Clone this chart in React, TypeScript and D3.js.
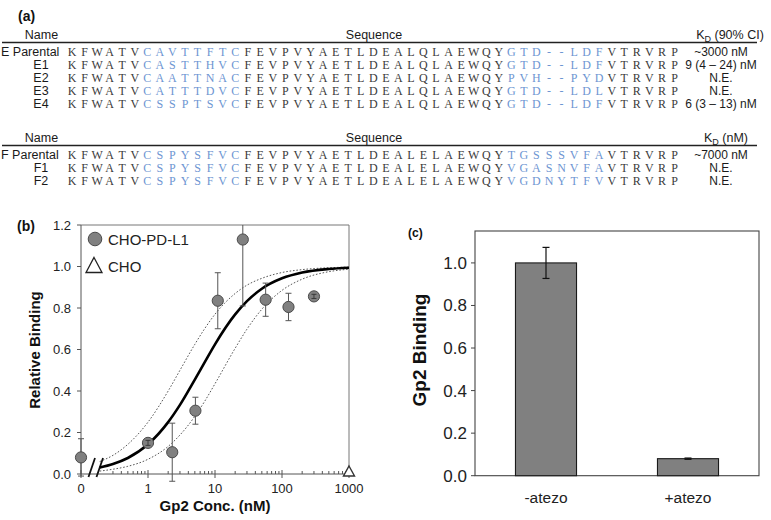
import React from "react";
import * as d3 from "d3";

// ---------- Table (a) data ----------
const seqPrefix = "KFWATV";
const seqSuffix = "VTRVRP";
const eMiddle = "FEVPVYAETLDEALQLAEWQY";
const fMiddle = "FEVPVYAETLDEALELAEWQY";

const eNames = ["E Parental", "E1", "E2", "E3", "E4"];
const eLoop1 = ["CAVTTFTC", "CASTTHVC", "CAATTNAC", "CATTTDVC", "CSSPTSVC"];
const eLoop2 = ["GTD--LDF", "GTD--LDF", "PVH--PYD", "GTD--LDL", "GTD--LDF"];
const eKd = ["~3000 nM", "9 (4 \u2013 24) nM", "N.E.", "N.E.", "6 (3 \u2013 13) nM"];

const fNames = ["F Parental", "F1", "F2"];
const fLoop1 = ["CSPYSFVC", "CSPYSFVC", "CSPYSFVC"];
const fLoop2 = ["TGSSSVFA", "VGASNVFA", "VGDNYTFV"];
const fKd = ["~7000 nM", "N.E.", "N.E."];

// ---------- Panel (b) data ----------
const bConc = [0, 1, 2.3, 5.1, 11, 26, 57, 125, 300];
const bVal = [0.08, 0.15, 0.105, 0.305, 0.835, 1.13, 0.84, 0.805, 0.856];
const bErr = [0.09, 0.012, 0.14, 0.065, 0.135, 0.32, 0.08, 0.066, 0.01];
const choConc = [1000];
const choVal = [0.0];
const bXTicks = [0, 1, 10, 100, 1000];
const bYTicks = [0, 0.2, 0.4, 0.6, 0.8, 1.0, 1.2];
// fitted curve and its 90% CI bounds
const fitConc = [0.19, 0.3, 0.5, 1, 2, 3, 5, 7, 10, 20, 30, 50, 100, 200, 500, 1000];
const fitMid = [0.031, 0.048, 0.077, 0.143, 0.25, 0.333, 0.455, 0.538, 0.625, 0.769, 0.833, 0.893, 0.943, 0.971, 0.988, 0.994];
const fitUpper = [0.06, 0.09, 0.143, 0.25, 0.4, 0.5, 0.625, 0.7, 0.77, 0.87, 0.91, 0.943, 0.971, 0.985, 0.994, 0.997];
const fitLower = [0.014, 0.023, 0.037, 0.071, 0.133, 0.188, 0.278, 0.35, 0.435, 0.606, 0.698, 0.794, 0.885, 0.939, 0.975, 0.987];

// ---------- Panel (c) data ----------
const cCats = ["-atezo", "+atezo"];
const cVals = [1.0, 0.08];
const cErrs = [0.073, 0.003];
const cYTicks = [0, 0.2, 0.4, 0.6, 0.8, 1.0];

const SANS = "'Liberation Sans', Arial, Helvetica, sans-serif";
const SERIF = "'Liberation Serif', 'Times New Roman', serif";
const BLUE = "#6d95d2";
const SEQ_BLACK = "#3a3a3a";

type Seg = { s: string; blue: boolean };

function rowSegments(loop1: string, middle: string, loop2: string): Seg[] {
  return [
    { s: seqPrefix, blue: false },
    { s: loop1, blue: true },
    { s: middle, blue: false },
    { s: loop2, blue: true },
    { s: seqSuffix, blue: false },
  ];
}

const seqX = d3.scaleLinear().domain([0, 48]).range([72, 674.5]);

function SeqRow({ segs, y }: { segs: Seg[]; y: number }) {
  const chars: { c: string; blue: boolean }[] = [];
  segs.forEach((g) => g.s.split("").forEach((c) => chars.push({ c, blue: g.blue })));
  return (
    <g>
      {chars.map((ch, i) => (
        <text
          key={i}
          x={seqX(i)}
          y={y}
          textAnchor="middle"
          fontFamily={SERIF}
          fontSize={12}
          fill={ch.blue ? BLUE : SEQ_BLACK}
        >
          {ch.c}
        </text>
      ))}
    </g>
  );
}

function Table({
  top,
  names,
  loop1,
  loop2,
  middle,
  kd,
  kdHeader,
  kdHeaderX,
}: {
  top: number;
  names: string[];
  loop1: string[];
  loop2: string[];
  middle: string;
  kd: string[];
  kdHeader: string;
  kdHeaderX: number;
}) {
  const rowY = d3.scaleLinear().domain([0, 1]).range([top + 20.5, top + 33.6]);
  return (
    <g fontFamily={SANS} fill="#1a1a1a">
      <text x={41.5} y={top + 4} textAnchor="middle" fontSize={12.5}>Name</text>
      <text x={374} y={top + 4} textAnchor="middle" fontSize={12.5}>Sequence</text>
      <text x={kdHeaderX} y={top + 4} textAnchor="middle" fontSize={12.5}>
        K<tspan fontSize={9} dy={3}>D</tspan>
        <tspan dy={-3}>{kdHeader}</tspan>
      </text>
      <line x1={2} x2={757} y1={top + 7.5} y2={top + 7.5} stroke="#222" strokeWidth={1.3} />
      {names.map((n, i) => {
        const y = rowY(i);
        const isParental = n.indexOf("Parental") >= 0;
        return (
          <g key={n}>
            <text
              x={isParental ? 1 : 41}
              y={y}
              textAnchor={isParental ? "start" : "middle"}
              fontSize={12.5}
            >
              {n}
            </text>
            <SeqRow segs={rowSegments(loop1[i], middle, loop2[i])} y={y} />
            <text x={721} y={y} textAnchor="middle" fontSize={12}>
              {kd[i]}
            </text>
          </g>
        );
      })}
    </g>
  );
}

function PanelB() {
  const x = d3.scaleLog().domain([0.1, 1000]).range([81, 349]);
  const xp = (c: number) => (c === 0 ? x(0.1) : x(c));
  const y = d3.scaleLinear().domain([0, 1.2]).range([474, 225]);
  const line = d3
    .line<number>()
    .x((_, i) => x(fitConc[i]))
    .y((d) => y(d))
    .curve(d3.curveMonotoneX);
  const minor: number[] = [];
  [0.1, 1, 10, 100].forEach((dec) => {
    for (let k = 2; k <= 9; k++) {
      if (dec === 0.1 && k < 3) continue;
      minor.push(dec * k);
    }
  });
  const axisColor = "#555";
  return (
    <g fontFamily={SANS}>
      {/* frame */}
      <line x1={81} x2={349} y1={225} y2={225} stroke="#777" strokeWidth={1} />
      <line x1={349} x2={349} y1={225} y2={474} stroke="#777" strokeWidth={1} />
      <line x1={81} x2={81} y1={225} y2={474} stroke={axisColor} strokeWidth={1} />
      <line x1={81} x2={349} y1={474} y2={474} stroke={axisColor} strokeWidth={1} />
      {/* y ticks */}
      {bYTicks.map((t) => (
        <g key={t}>
          <line x1={77} x2={81} y1={y(t)} y2={y(t)} stroke={axisColor} />
          <text x={71} y={y(t) + 4.5} textAnchor="end" fontSize={13} fill="#222">
            {d3.format(".1f")(t)}
          </text>
        </g>
      ))}
      {/* x ticks */}
      {bXTicks.map((t) => (
        <g key={t}>
          <line x1={xp(t)} x2={xp(t)} y1={470} y2={478} stroke={axisColor} />
          <text x={xp(t)} y={493} textAnchor="middle" fontSize={13} fill="#222">
            {t}
          </text>
        </g>
      ))}
      {minor.map((m) => (
        <line key={m} x1={x(m)} x2={x(m)} y1={471} y2={474} stroke={axisColor} />
      ))}
      {/* axis break */}
      <line x1={88.5} x2={95} y1={477} y2={458} stroke="#111" strokeWidth={1.8} />
      <line x1={96.5} x2={103} y1={477} y2={458} stroke="#111" strokeWidth={1.8} />
      {/* fit curves */}
      <path d={line(fitUpper) || ""} fill="none" stroke="#444" strokeWidth={0.9} strokeDasharray="1.6,1.8" />
      <path d={line(fitLower) || ""} fill="none" stroke="#444" strokeWidth={0.9} strokeDasharray="1.6,1.8" />
      <path d={line(fitMid) || ""} fill="none" stroke="#000" strokeWidth={2.6} />
      {/* error bars */}
      {bConc.map((c, i) => {
        const cx = xp(c);
        const rawTop = y(bVal[i] + bErr[i]);
        const clipped = rawTop < 225;
        const topV = clipped ? 225 : rawTop;
        const bot = y(bVal[i] - bErr[i]);
        return (
          <g key={"e" + i} stroke="#555" strokeWidth={1}>
            <line x1={cx} x2={cx} y1={topV} y2={bot} />
            {!clipped && <line x1={cx - 3} x2={cx + 3} y1={topV} y2={topV} />}
            <line x1={cx - 3} x2={cx + 3} y1={bot} y2={bot} />
          </g>
        );
      })}
      {/* points */}
      {bConc.map((c, i) => (
        <circle key={"p" + i} cx={xp(c)} cy={y(bVal[i])} r={5.6} fill="#808080" stroke="#4a4a4a" strokeWidth={1} />
      ))}
      {bConc.map((c, i) =>
        bErr[i] < 0.02 ? (
          <g key={"s" + i} stroke="#333" strokeWidth={0.9}>
            <line x1={xp(c)} x2={xp(c)} y1={y(bVal[i] + bErr[i])} y2={y(bVal[i] - bErr[i])} />
            <line x1={xp(c) - 2.5} x2={xp(c) + 2.5} y1={y(bVal[i] + bErr[i])} y2={y(bVal[i] + bErr[i])} />
            <line x1={xp(c) - 2.5} x2={xp(c) + 2.5} y1={y(bVal[i] - bErr[i])} y2={y(bVal[i] - bErr[i])} />
          </g>
        ) : null
      )}
      {/* CHO triangles */}
      {choConc.map((c, i) => {
        const cx = x(c);
        const cy = y(choVal[i]);
        return (
          <path
            key={"t" + i}
            d={`M${cx},${cy - 8} L${cx + 5.5},${cy + 2} L${cx - 5.5},${cy + 2} Z`}
            fill="#fff"
            stroke="#333"
            strokeWidth={1.4}
          />
        );
      })}
      {/* legend */}
      <circle cx={95} cy={239} r={6.8} fill="#808080" stroke="#4a4a4a" strokeWidth={1} />
      <text x={108} y={244.5} fontSize={15} fill="#222">CHO-PD-L1</text>
      <path d="M94,257.5 L102,272.5 L86,272.5 Z" fill="#fff" stroke="#222" strokeWidth={1.3} />
      <text x={108} y={271.5} fontSize={15} fill="#222">CHO</text>
      {/* titles */}
      <text x={215} y={511} textAnchor="middle" fontSize={15} fontWeight="bold" fill="#111">
        Gp2 Conc. (nM)
      </text>
      <text
        transform="translate(39.5,350) rotate(-90)"
        textAnchor="middle"
        fontSize={15}
        fontWeight="bold"
        fill="#111"
      >
        Relative Binding
      </text>
      <text x={17} y={231} fontSize={14} fontWeight="bold" fill="#111">(b)</text>
    </g>
  );
}

function PanelC() {
  const x = d3.scaleBand<string>().domain(cCats).range([475, 759]).paddingInner(0.57).paddingOuter(0.285);
  const y = d3.scaleLinear().domain([0, 1.15]).range([475.7, 231]);
  return (
    <g fontFamily={SANS}>
      <rect x={475} y={231} width={284} height={475.7 - 231} fill="none" stroke="#444" strokeWidth={1.1} />
      {cYTicks.map((t) => (
        <g key={t}>
          <line x1={471} x2={475} y1={y(t)} y2={y(t)} stroke="#444" />
          <text x={467} y={y(t) + 6} textAnchor="end" fontSize={17} fill="#222">
            {d3.format(".1f")(t)}
          </text>
        </g>
      ))}
      {cCats.map((c, i) => {
        const bx = x(c) as number;
        const bw = x.bandwidth();
        const cx = bx + bw / 2;
        return (
          <g key={c}>
            <rect x={bx} y={y(cVals[i])} width={bw} height={y(0) - y(cVals[i])} fill="#808080" stroke="#1a1a1a" strokeWidth={1.1} />
            <g stroke="#111" strokeWidth={1.2}>
              <line x1={cx} x2={cx} y1={y(cVals[i] + cErrs[i])} y2={y(cVals[i] - cErrs[i])} />
              <line x1={cx - 3.5} x2={cx + 3.5} y1={y(cVals[i] + cErrs[i])} y2={y(cVals[i] + cErrs[i])} />
              <line x1={cx - 3.5} x2={cx + 3.5} y1={y(cVals[i] - cErrs[i])} y2={y(cVals[i] - cErrs[i])} />
            </g>
            <text x={cx} y={503} textAnchor="middle" fontSize={15.5} fill="#222">
              {c}
            </text>
          </g>
        );
      })}
      <text
        transform="translate(425.5,350) rotate(-90)"
        textAnchor="middle"
        fontSize={19}
        fontWeight="bold"
        fill="#111"
      >
        Gp2 Binding
      </text>
      <text x={408} y={237} fontSize={12} fontWeight="bold" fill="#111">(c)</text>
    </g>
  );
}

export default function App() {
  return (
    <svg
      width={771}
      height={520}
      viewBox="0 0 771 520"
      style={{ position: "absolute", left: 0, top: 0, background: "#fff" }}
    >
      <rect width={771} height={520} fill="#fff" />
      <text x={18} y={20.5} fontFamily={SANS} fontSize={14} fontWeight="bold" fill="#111">(a)</text>
      <Table top={35} names={eNames} loop1={eLoop1} loop2={eLoop2} middle={eMiddle} kd={eKd} kdHeader=" (90% CI)" kdHeaderX={730} />
      <Table top={138} names={fNames} loop1={fLoop1} loop2={fLoop2} middle={fMiddle} kd={fKd} kdHeader=" (nM)" kdHeaderX={726} />
      <PanelB />
      <PanelC />
    </svg>
  );
}
